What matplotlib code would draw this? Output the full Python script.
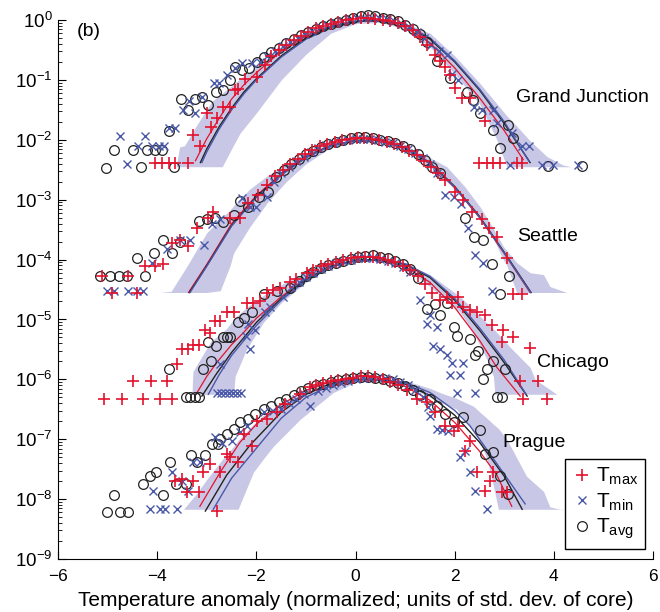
import matplotlib.pyplot as plt
import numpy as np

plt.rcParams['font.family'] = ['Liberation Sans', 'DejaVu Sans']
plt.rcParams['mathtext.fontset'] = 'custom'
plt.rcParams['mathtext.rm'] = 'Liberation Sans'
plt.rcParams['mathtext.it'] = 'Liberation Sans:italic'
plt.rcParams['mathtext.bf'] = 'Liberation Sans:bold'

# all y values are log10 of the normalized frequency (peak ~ 1) before the
# per-station vertical offset; x is the anomaly in std. dev. units

city_names = ['Grand Junction', 'Seattle', 'Chicago', 'Prague']
city_offsets = [0, -2, -4, -6]          # decades shifted down
label_x = [3.24, 3.26, 3.66, 2.97]
label_y = [-1.30, -1.62, -1.72, -1.05]  # relative to each offset

# ---------------- Grand Junction ----------------
gj_tmax_x = [-4.04, -3.9, -3.77, -3.64, -3.37, -3.28, -3.14, -3.0, -2.92, -2.8, -2.67, -2.54, -2.43, -2.37,
             -2.23, -1.99, -1.82, -1.7, -1.55, -1.4, -1.25, -1.1, -0.95, -0.8, -0.65, -0.5, -0.35, -0.2,
             -0.05, 0.1, 0.25, 0.4, 0.55, 0.7, 0.85, 1.0, 1.15, 1.3, 1.45, 1.6, 1.7, 1.8, 1.9, 2.0,
             2.15, 2.31, 2.61, 2.48, 2.65, 2.78, 2.92, 3.25, 3.36]
gj_tmax_y = [-2.38, -2.38, -2.38, -2.38, -2.38, -1.92, -2.1, -1.55, -1.78, -1.64, -1.45, -1.45, -1.17, -1.15,
             -0.99, -0.95, -0.75, -0.6, -0.5, -0.42, -0.33, -0.27, -0.2, -0.14, -0.1, -0.06, -0.03, 0.0,
             0.02, 0.04, 0.03, 0.02, 0.0, -0.02, -0.05, -0.1, -0.17, -0.28, -0.42, -0.58, -0.68, -0.78, -0.92, -1.14,
             -1.3, -1.3, -1.69, -2.38, -2.38, -2.38, -2.38, -2.38, -2.38]
gj_tmin_x = [-4.75, -4.61, -4.38, -4.24, -4.1, -3.97, -3.87, -3.77, -3.64, -3.48, -3.35, -3.24, -3.1, -2.86,
             -2.76, -2.6, -2.43, -2.29, -2.09, -1.93, -1.78, -1.62, -1.47, -1.32, -1.17, -1.02, -0.87, -0.72,
             -0.57, -0.42, -0.27, -0.12, 0.03, 0.18, 0.33, 0.48, 0.63, 0.78, 0.93, 1.08, 1.23, 1.38, 1.53,
             1.68, 1.84, 1.95, 2.07, 2.38, 2.55, 2.78, 2.85, 3.15, 3.36, 3.5, 3.12, 3.76, 3.99, 4.49]
gj_tmin_y = [-1.93, -2.4, -2.1, -1.93, -2.1, -2.1, -2.1, -1.8, -1.8, -1.5, -1.36, -1.55, -1.28, -1.05,
             -1.05, -0.92, -0.8, -0.72, -0.72, -0.7, -0.6, -0.52, -0.43, -0.36, -0.3, -0.23, -0.18, -0.12,
             -0.08, -0.05, -0.02, 0.01, 0.03, 0.04, 0.04, 0.03, 0.01, -0.02, -0.06, -0.12, -0.2, -0.3, -0.42,
             -0.52, -0.58, -0.9, -1.0, -1.45, -1.5, -1.5, -1.72, -1.89, -2.1, -2.1, -2.42, -2.42, -2.42, -2.42]
gj_tavg_x = [-5.03, -4.87, -4.48, -4.32, -4.2, -4.04, -3.9, -3.77, -3.66, -3.53, -3.38, -3.24, -3.1, -2.97,
             -2.81, -2.67, -2.54, -2.43, -2.29, -2.14, -1.99, -1.85, -1.7, -1.55, -1.4, -1.25, -1.1, -0.95,
             -0.8, -0.65, -0.5, -0.35, -0.2, -0.05, 0.1, 0.25, 0.4, 0.55, 0.7, 0.85, 1.0, 1.15, 1.3, 1.45,
             1.64, 1.9, 2.24, 2.37, 2.51, 2.78, 2.92, 3.08, 3.17, 3.88, 4.57]
gj_tavg_y = [-2.47, -2.17, -2.17, -2.46, -2.17, -2.17, -2.17, -1.86, -2.46, -1.32, -1.5, -1.32, -1.28, -1.42,
             -1.2, -1.17, -1.0, -0.78, -0.83, -0.8, -0.7, -0.62, -0.53, -0.46, -0.38, -0.31, -0.25, -0.2,
             -0.15, -0.1, -0.07, -0.03, 0.0, 0.03, 0.06, 0.08, 0.06, 0.04, 0.02, -0.02, -0.08, -0.15, -0.24, -0.36,
             -0.68, -0.97, -1.2, -1.33, -1.55, -1.83, -2.14, -1.75, -1.97, -2.44, -2.44]
gj_red_x = [-3.23, -3.0, -2.75, -2.5, -2.25, -2.0, -1.5, -1.0, -0.5, 0.0, 0.5, 1.0, 1.5, 2.0, 2.5, 3.0, 3.38]
gj_red_y = [-2.35, -1.98, -1.64, -1.32, -1.08, -0.88, -0.52, -0.27, -0.1, -0.02, -0.02, -0.12, -0.38, -0.8, -1.3, -1.85, -2.33]
gj_blk_x = [-3.13, -3.0, -2.75, -2.5, -2.25, -2.0, -1.5, -1.0, -0.5, 0.0, 0.5, 1.0, 1.5, 2.0, 2.5, 3.0, 3.52]
gj_blk_y = [-2.38, -2.15, -1.78, -1.47, -1.2, -0.98, -0.6, -0.3, -0.12, -0.03, 0.0, -0.08, -0.32, -0.7, -1.17, -1.73, -2.38]
gj_blu_x = [-3.1, -3.0, -2.75, -2.5, -2.25, -2.0, -1.5, -1.0, -0.5, 0.0, 0.5, 1.0, 1.5, 2.0, 2.5, 3.0, 3.5]
gj_blu_y = [-2.38, -2.2, -1.82, -1.5, -1.23, -1.0, -0.62, -0.32, -0.13, -0.03, 0.0, -0.07, -0.3, -0.68, -1.15, -1.7, -2.36]
gj_band_x = [-3.62, -3.55, -3.45, -3.2, -2.9, -2.69, -2.5, -2.33, -2.0, -1.5, -1.0, -0.5, 0.0, 0.5, 1.0,
             1.5, 2.0, 2.5, 2.85, 3.05, 3.26, 3.5, 3.86, 4.18, 4.35]
gj_band_lo = [-2.45, -2.45, -2.45, -2.45, -2.45, -2.45, -2.15, -1.89, -1.55, -1.0, -0.57, -0.22, -0.06, -0.04, -0.15,
              -0.45, -0.9, -1.4, -2.0, -2.45, -2.45, -2.45, -2.45, -2.45, -2.45]
gj_band_hi = [-2.45, -2.12, -2.1, -1.75, -1.36, -1.22, -1.1, -0.98, -0.78, -0.45, -0.22, -0.06, 0.0, 0.0, -0.05,
              -0.22, -0.6, -1.05, -1.4, -1.6, -1.78, -2.0, -2.28, -2.42, -2.45]

# ---------------- Seattle ----------------
sea_tmax_x = [-5.12, -4.58, -4.92, -4.41, -4.24, -4.04, -3.88, -3.7, -3.54, -3.37, -3.2, -2.98, -2.87, -2.53,
              -2.33, -2.16, -1.96, -1.78, -1.62, -1.47, -1.32, -1.17, -1.02, -0.87, -0.72, -0.57, -0.42, -0.27,
              -0.12, 0.03, 0.18, 0.33, 0.48, 0.63, 0.78, 0.93, 1.08, 1.23, 1.38, 1.53, 1.66, 1.8, 2.0, 2.17,
              2.35, 2.55, 2.7, 2.85, 3.05, 3.18, 3.36]
sea_tmax_y = [-2.27, -2.27, -2.55, -2.55, -2.11, -2.11, -2.08, -1.72, -1.67, -1.78, -1.47, -1.3, -1.2, -1.3,
              -1.3, -1.05, -0.92, -0.75, -0.6, -0.5, -0.4, -0.32, -0.24, -0.17, -0.11, -0.07, -0.03, 0.0,
              0.02, 0.03, 0.03, 0.02, 0.0, -0.03, -0.07, -0.12, -0.18, -0.26, -0.35, -0.45, -0.55, -0.67, -0.87, -1.0,
              -1.2, -1.33, -1.47, -1.63, -1.97, -2.57, -2.57]
sea_tmin_x = [-5.02, -4.88, -4.58, -4.41, -4.28, -4.1, -3.8, -3.54, -3.33, -3.05, -2.9, -2.73, -2.29, -2.13,
              -2.0, -1.78, -1.65, -1.5, -1.35, -1.2, -1.05, -0.9, -0.75, -0.6, -0.45, -0.3, -0.15, 0.0,
              0.15, 0.3, 0.45, 0.6, 0.75, 0.9, 1.05, 1.2, 1.35, 1.5, 1.65, 1.81, 1.98, 2.13, 2.27, 2.41, 2.58, 2.75]
sea_tmin_y = [-2.53, -2.53, -2.53, -2.53, -2.53, -2.05, -1.83, -1.67, -1.67, -1.75, -1.4, -1.33, -0.97, -1.12,
              -1.12, -0.95, -0.7, -0.56, -0.45, -0.36, -0.28, -0.2, -0.14, -0.09, -0.05, -0.02, 0.0, 0.02,
              0.02, 0.01, -0.01, -0.03, -0.06, -0.1, -0.15, -0.22, -0.3, -0.4, -0.55, -0.92, -0.95, -1.08, -1.47,
              -1.92, -2.05, -2.53]
sea_tavg_x = [-5.15, -4.95, -4.78, -4.61, -4.24, -4.41, -4.06, -3.89, -3.71, -3.54, -3.16, -2.99, -2.83, -2.67,
              -2.46, -2.33, -2.16, -1.95, -1.76, -1.6, -1.45, -1.3, -1.15, -1.0, -0.85, -0.7, -0.55, -0.4,
              -0.25, -0.1, 0.05, 0.2, 0.35, 0.5, 0.65, 0.8, 0.95, 1.1, 1.25, 1.4, 1.55, 1.7, 2.21, 2.39,
              2.57, 2.75, 2.92, 3.09]
sea_tavg_y = [-2.27, -2.27, -2.27, -2.27, -2.27, -1.97, -1.89, -1.67, -1.89, -1.71, -1.35, -1.32, -1.3, -1.37,
              -1.25, -1.03, -1.13, -0.95, -0.87, -0.62, -0.5, -0.4, -0.32, -0.24, -0.18, -0.12, -0.07, -0.03,
              0.0, 0.03, 0.04, 0.04, 0.03, 0.0, -0.02, -0.05, -0.1, -0.16, -0.24, -0.34, -0.45, -0.55, -1.3, -1.62,
              -1.67, -2.08, -2.57, -2.28]
sea_red_x = [-3.37, -3.0, -2.5, -2.0, -1.5, -1.0, -0.5, 0.0, 0.5, 1.0, 1.5, 2.0, 2.5, 3.0, 3.52]
sea_red_y = [-2.55, -2.08, -1.4, -0.93, -0.57, -0.28, -0.09, -0.01, -0.01, -0.14, -0.4, -0.8, -1.3, -1.9, -2.55]
sea_blk_x = [-3.35, -3.0, -2.5, -2.0, -1.5, -1.0, -0.5, 0.0, 0.5, 1.0, 1.5, 2.0, 2.5, 3.0, 3.54]
sea_blk_y = [-2.55, -2.1, -1.43, -0.95, -0.58, -0.29, -0.1, -0.01, -0.01, -0.13, -0.38, -0.78, -1.28, -1.88, -2.55]
sea_blu_x = [-3.34, -3.0, -2.5, -2.0, -1.5, -1.0, -0.5, 0.0, 0.5, 1.0, 1.5, 2.0, 2.5, 3.0, 3.53]
sea_blu_y = [-2.55, -2.11, -1.44, -0.96, -0.59, -0.3, -0.1, -0.01, -0.01, -0.13, -0.39, -0.79, -1.29, -1.89, -2.55]
sea_band_x = [-3.94, -3.72, -3.4, -3.0, -2.73, -2.53, -2.46, -2.13, -1.78, -1.4, -1.0, -0.5, 0.0, 0.5, 1.0,
              1.5, 1.84, 2.2, 2.51, 2.72, 2.98, 3.05, 3.25, 3.52, 3.79, 3.92, 4.26]
sea_band_lo = [-2.55, -2.55, -2.55, -2.55, -2.52, -2.1, -1.89, -1.45, -1.05, -0.7, -0.4, -0.13, -0.03, -0.03, -0.18,
               -0.45, -0.7, -1.0, -1.3, -1.55, -2.0, -2.1, -2.55, -2.55, -2.55, -2.55, -2.55]
sea_band_hi = [-2.55, -2.53, -2.11, -1.55, -1.33, -1.17, -1.1, -0.82, -0.6, -0.4, -0.22, -0.06, 0.01, 0.0, -0.1,
               -0.3, -0.45, -0.78, -1.12, -1.4, -1.78, -1.85, -2.05, -2.22, -2.25, -2.45, -2.55]

# ---------------- Chicago ----------------
chi_tmax_x = [-5.08, -4.71, -4.28, -3.94, -3.7, -4.48, -4.12, -3.81, -3.6, -3.5, -3.37, -3.27, -3.15, -3.03,
              -2.93, -2.83, -2.73, -2.6, -2.46, -2.19, -2.06, -1.92, -1.79, -1.66, -1.52, -1.32, -1.2, -0.98,
              -0.85, -0.7, -0.55, -0.4, -0.25, -0.1, 0.05, 0.2, 0.35, 0.5, 0.65, 0.8, 0.95, 1.1, 1.25, 1.4,
              1.55, 1.7, 1.84, 1.95, 2.07, 2.17, 2.3, 2.45, 2.61, 2.75, 2.98, 2.95, 3.18, 3.52, 3.32, 3.68, 3.38, 3.86]
chi_tmax_y = [-2.33, -2.33, -2.33, -2.33, -2.33, -2.03, -2.03, -2.03, -1.75, -1.5, -1.5, -1.42, -1.42, -1.17,
              -1.22, -1.02, -1.02, -0.88, -0.88, -0.72, -0.72, -0.7, -0.55, -0.5, -0.47, -0.37, -0.32, -0.22,
              -0.17, -0.11, -0.07, -0.04, -0.01, 0.02, 0.04, 0.05, 0.04, 0.02, 0.0, -0.04, -0.1, -0.17, -0.27, -0.4,
              -0.55, -0.67, -0.63, -0.72, -0.62, -0.8, -0.85, -0.88, -0.92, -1.1, -1.17, -1.37, -1.3, -1.47, -2.03,
              -2.03, -2.33, -2.33]
chi_tmin_x = [-2.8, -2.72, -2.64, -2.56, -2.48, -2.4, -2.32, -2.73, -2.21, -2.12, -2.16, -2.03, -1.82, -1.72,
              -1.46, -1.3, -1.15, -1.0, -0.85, -0.7, -0.55, -0.4, -0.25, -0.1, 0.05, 0.2, 0.35, 0.5, 0.65,
              0.8, 0.95, 1.1, 1.3, 1.5, 1.44, 1.64, 1.57, 1.7, 1.84, 1.95, 2.17, 1.9, 2.11, 2.04, 2.41]
chi_tmin_y = [-2.22, -2.22, -2.22, -2.22, -2.22, -2.22, -2.22, -1.75, -1.28, -1.5, -1.08, -1.17, -0.87, -0.8,
              -0.62, -0.45, -0.37, -0.29, -0.22, -0.16, -0.1, -0.06, -0.03, 0.0, 0.02, 0.03, 0.03, 0.01, -0.02,
              -0.06, -0.12, -0.2, -0.67, -0.92, -1.08, -1.13, -1.45, -1.5, -1.6, -1.72, -1.72, -1.92, -1.92, -2.22,
              -2.22]
chi_tavg_x = [-3.43, -3.33, -3.24, -3.15, -3.77, -3.08, -2.92, -2.97, -2.81, -2.67, -2.6, -2.53, -2.38, -2.26,
              -2.09, -1.85, -1.59, -1.32, -1.15, -1.0, -0.85, -0.7, -0.55, -0.4, -0.25, -0.1, 0.05, 0.2, 0.35,
              0.5, 0.65, 0.8, 0.95, 1.1, 1.25, 1.44, 1.6, 1.7, 1.84, 1.98, 2.04, 2.31, 2.47, 2.41, 2.65, 2.78,
              2.57, 3.02, 2.85, 2.96]
chi_tavg_y = [-2.3, -2.3, -2.3, -2.3, -1.82, -1.82, -1.7, -1.38, -1.45, -1.3, -1.3, -1.3, -1.05, -0.97,
              -0.87, -0.58, -0.53, -0.47, -0.35, -0.27, -0.2, -0.14, -0.09, -0.05, -0.02, 0.01, 0.04, 0.06, 0.07,
              0.05, 0.02, -0.02, -0.08, -0.16, -0.3, -0.83, -0.75, -0.92, -0.72, -1.13, -1.28, -1.33, -1.53, -1.6,
              -1.83, -1.7, -2.0, -1.83, -2.3, -2.3]
chi_red_x = [-3.24, -3.0, -2.8, -2.5, -2.26, -2.0, -1.5, -1.0, -0.5, 0.0, 0.5, 1.0, 1.5, 2.0, 2.5, 2.85, 3.32]
chi_red_y = [-2.28, -1.95, -1.72, -1.42, -1.22, -0.98, -0.62, -0.32, -0.11, -0.01, 0.0, -0.12, -0.38, -0.8, -1.35, -1.8, -2.28]
chi_blk_x = [-3.1, -2.8, -2.5, -2.0, -1.5, -1.0, -0.5, 0.0, 0.5, 1.0, 1.5, 2.0, 2.5, 2.98, 3.46]
chi_blk_y = [-2.28, -1.9, -1.55, -1.05, -0.65, -0.33, -0.12, -0.02, 0.0, -0.08, -0.3, -0.68, -1.18, -1.7, -2.28]
chi_blu_x = [-2.97, -2.75, -2.5, -2.0, -1.5, -1.0, -0.5, 0.0, 0.5, 1.0, 1.5, 2.0, 2.5, 3.0, 3.44]
chi_blu_y = [-2.25, -1.92, -1.6, -1.1, -0.68, -0.35, -0.13, -0.02, 0.0, -0.07, -0.28, -0.65, -1.14, -1.68, -2.25]
chi_band_x = [-3.74, -3.3, -3.28, -2.93, -2.6, -2.46, -2.43, -2.2, -1.86, -1.5, -1.0, -0.5, 0.0, 0.5, 1.0,
              1.5, 2.11, 2.38, 2.65, 2.78, 2.81, 2.85, 3.16, 3.52, 3.62, 3.92, 4.06]
chi_band_lo = [-2.25, -2.25, -2.25, -2.25, -2.25, -2.25, -1.95, -1.5, -1.05, -0.72, -0.38, -0.12, -0.02, -0.02, -0.15,
               -0.45, -0.88, -1.22, -1.67, -1.95, -2.25, -2.25, -2.25, -2.25, -2.25, -2.25, -2.25]
chi_band_hi = [-2.25, -2.25, -1.87, -1.38, -1.15, -1.0, -0.97, -0.8, -0.6, -0.42, -0.2, -0.06, 0.02, 0.02, -0.06,
               -0.25, -0.62, -0.84, -1.06, -1.16, -1.18, -1.22, -1.5, -1.8, -2.0, -2.17, -2.25]

# ---------------- Prague ----------------
pra_tmax_x = [-3.64, -3.5, -3.4, -3.27, -3.15, -3.07, -2.93, -2.8, -2.73, -2.6, -2.53, -2.37, -2.26, -2.09,
              -1.99, -1.78, -1.59, -1.42, -1.12, -0.92, -0.8, -0.65, -0.5, -0.35, -0.2, -0.05, 0.1, 0.25, 0.4,
              0.55, 0.7, 0.85, 1.03, 1.24, 1.44, 1.6, 1.8, 1.98, 2.07, 2.31, 2.21, 2.45, 2.78, 2.71, 2.61, 2.95, 3.05]
pra_tmax_y = [-1.7, -1.67, -1.88, -1.7, -1.88, -1.55, -1.42, -2.2, -1.55, -1.25, -1.3, -1.38, -0.92, -1.12,
              -0.7, -0.67, -0.55, -0.42, -0.25, -0.13, -0.1, -0.06, -0.03, -0.01, 0.01, 0.03, 0.05, 0.06, 0.04,
              0.0, -0.04, -0.1, -0.17, -0.33, -0.38, -0.55, -0.78, -0.87, -0.78, -1.03, -1.2, -1.55, -1.55, -1.7,
              -1.87, -1.88, -1.88]
pra_tmin_x = [-4.08, -4.14, -3.94, -3.84, -3.6, -3.7, -3.5, -3.37, -3.27, -3.14, -2.83, -2.7, -2.5, -2.33,
              -2.19, -1.85, -1.66, -1.5, -1.35, -1.2, -1.05, -0.92, -0.75, -0.6, -0.45, -0.3, -0.15, 0.0, 0.15,
              0.3, 0.45, 0.6, 0.75, 0.9, 1.05, 1.2, 1.35, 1.47, 1.5, 1.64, 1.75, 1.87, 2.21, 2.11, 2.31, 2.41, 2.65]
pra_tmin_y = [-1.87, -2.17, -2.17, -2.17, -2.17, -1.55, -1.7, -1.87, -1.38, -1.38, -0.97, -1.07, -1.03, -0.88,
              -0.78, -0.55, -0.53, -0.5, -0.4, -0.33, -0.25, -0.45, -0.2, -0.15, -0.1, -0.06, -0.03, 0.0, 0.02,
              0.03, 0.03, 0.02, 0.0, -0.04, -0.1, -0.18, -0.3, -0.47, -0.62, -0.83, -0.85, -0.87, -1.2, -1.3, -1.55,
              -1.87, -2.17]
pra_tavg_x = [-5.02, -4.75, -4.58, -4.88, -4.28, -4.14, -4.02, -3.88, -3.74, -3.62, -3.43, -3.32, -3.2, -3.03,
              -2.9, -2.78, -2.73, -2.6, -2.46, -2.33, -2.16, -2.03, -1.85, -1.7, -1.55, -1.4, -1.25, -1.1, -0.95,
              -0.8, -0.65, -0.5, -0.35, -0.2, -0.05, 0.1, 0.25, 0.4, 0.55, 0.7, 0.85, 1.0, 1.15, 1.3, 1.5, 1.64,
              1.8, 1.98, 2.17, 2.51, 2.61, 2.78, 2.92, 3.08]
pra_tavg_y = [-2.22, -2.22, -2.22, -1.93, -1.75, -1.62, -1.55, -1.93, -1.38, -1.75, -1.75, -1.27, -1.38, -1.27,
              -1.08, -1.08, -1.0, -0.92, -0.83, -0.72, -0.67, -0.58, -0.5, -0.45, -0.38, -0.32, -0.26, -0.2, -0.15,
              -0.1, -0.07, -0.04, -0.01, 0.01, 0.03, 0.04, 0.04, 0.03, 0.01, -0.02, -0.06, -0.11, -0.17, -0.26,
              -0.33, -0.45, -0.58, -0.72, -0.63, -0.85, -1.25, -1.22, -1.62, -1.92]
pra_red_x = [-3.14, -2.73, -2.33, -2.0, -1.5, -1.0, -0.5, 0.0, 0.5, 1.0, 1.5, 2.0, 2.5, 2.85, 3.15]
pra_red_y = [-2.12, -1.55, -1.05, -0.75, -0.42, -0.18, -0.04, 0.0, -0.02, -0.12, -0.35, -0.72, -1.2, -1.6, -2.12]
pra_blk_x = [-3.03, -2.6, -2.13, -1.5, -1.0, -0.5, 0.0, 0.5, 1.0, 1.5, 2.0, 2.5, 3.0, 3.36]
pra_blk_y = [-2.2, -1.6, -1.1, -0.55, -0.25, -0.07, 0.0, 0.0, -0.08, -0.27, -0.6, -1.05, -1.62, -2.17]
pra_blu_x = [-2.87, -2.5, -2.0, -1.5, -1.0, -0.5, 0.0, 0.5, 1.0, 1.5, 2.0, 2.31, 2.8, 3.42]
pra_blu_y = [-2.17, -1.65, -1.15, -0.65, -0.3, -0.1, -0.01, 0.0, -0.05, -0.22, -0.52, -0.78, -1.35, -2.08]
pra_band_x = [-3.47, -3.2, -3.0, -2.7, -2.46, -2.37, -2.06, -1.86, -1.66, -1.12, -0.45, 0.0, 0.5, 1.0, 1.5,
              1.7, 2.04, 2.38, 2.51, 2.65, 2.78, 2.88, 3.05, 3.45, 3.79, 3.92, 4.18]
pra_band_lo = [-2.17, -2.17, -2.17, -2.17, -2.17, -2.17, -1.55, -1.33, -1.12, -0.67, -0.22, -0.05, -0.02, -0.1, -0.3,
               -0.38, -0.5, -0.88, -1.05, -1.33, -1.78, -2.17, -2.17, -2.17, -2.17, -2.17, -2.17]
pra_band_hi = [-2.17, -1.9, -1.67, -1.35, -1.12, -1.02, -0.75, -0.6, -0.48, -0.22, -0.03, 0.02, 0.02, -0.02, -0.15,
               -0.22, -0.32, -0.45, -0.55, -0.65, -0.75, -0.82, -1.0, -1.62, -1.87, -2.13, -2.18]

tmax_x = [gj_tmax_x, sea_tmax_x, chi_tmax_x, pra_tmax_x]
tmax_y = [gj_tmax_y, sea_tmax_y, chi_tmax_y, pra_tmax_y]
tmin_x = [gj_tmin_x, sea_tmin_x, chi_tmin_x, pra_tmin_x]
tmin_y = [gj_tmin_y, sea_tmin_y, chi_tmin_y, pra_tmin_y]
tavg_x = [gj_tavg_x, sea_tavg_x, chi_tavg_x, pra_tavg_x]
tavg_y = [gj_tavg_y, sea_tavg_y, chi_tavg_y, pra_tavg_y]
red_x = [gj_red_x, sea_red_x, chi_red_x, pra_red_x]
red_y = [gj_red_y, sea_red_y, chi_red_y, pra_red_y]
blk_x = [gj_blk_x, sea_blk_x, chi_blk_x, pra_blk_x]
blk_y = [gj_blk_y, sea_blk_y, chi_blk_y, pra_blk_y]
blu_x = [gj_blu_x, sea_blu_x, chi_blu_x, pra_blu_x]
blu_y = [gj_blu_y, sea_blu_y, chi_blu_y, pra_blu_y]
band_x = [gj_band_x, sea_band_x, chi_band_x, pra_band_x]
band_lo = [gj_band_lo, sea_band_lo, chi_band_lo, pra_band_lo]
band_hi = [gj_band_hi, sea_band_hi, chi_band_hi, pra_band_hi]

RED = '#e3122d'
BLUE = '#4a58a8'
BLACK = '#222222'
SHADE = '#c8c8e6'

fig = plt.figure(figsize=(6.6, 6.12), dpi=100)
ax = fig.add_axes([0.088, 0.0866, 0.9015, 0.8807])
ax.set_yscale('log')


def lin(vals, off):
    return 10.0 ** (np.asarray(vals) + off)


for i, off in enumerate(city_offsets):
    ax.fill_between(band_x[i], lin(band_lo[i], off), lin(band_hi[i], off),
                    color=SHADE, lw=0, zorder=1)
    ax.plot(red_x[i], lin(red_y[i], off), color=RED, lw=0.9, zorder=2, clip_on=False)
    ax.plot(blk_x[i], lin(blk_y[i], off), color=BLACK, lw=1.0, zorder=2, clip_on=False)
    ax.plot(blu_x[i], lin(blu_y[i], off), color=BLUE, lw=1.0, zorder=2, clip_on=False)
    ax.plot(tavg_x[i], lin(tavg_y[i], off), 'o', ms=7, mfc='none', mec=BLACK, mew=0.9,
            zorder=3, clip_on=False)
    ax.plot(tmin_x[i], lin(tmin_y[i], off), 'x', ms=5.5, color=BLUE, mew=1.0,
            zorder=4, clip_on=False)
    ax.plot(tmax_x[i], lin(tmax_y[i], off), '+', ms=8.5, color=RED, mew=1.2,
            zorder=5, clip_on=False)
    ax.text(label_x[i], lin(label_y[i], off), city_names[i], fontsize=14,
            ha='left', va='center', zorder=6)

ax.text(-5.62, 10 ** -0.2, '(b)', fontsize=14, ha='left', va='center')

h1, = ax.plot([], [], '+', ms=8.5, color=RED, mew=1.2)
h2, = ax.plot([], [], 'x', ms=5.5, color=BLUE, mew=1.0)
h3, = ax.plot([], [], 'o', ms=7, mfc='none', mec=BLACK, mew=0.9)
leg = ax.legend([h1, h2, h3], [r'T$_{\rm max}$', r'T$_{\rm min}$', r'T$_{\rm avg}$'],
                loc='lower right', bbox_to_anchor=(0.987, 0.019), borderaxespad=0,
                fontsize=15, handlelength=0.9, handletextpad=0.2, borderpad=0.35,
                labelspacing=0.2, fancybox=False, framealpha=1, edgecolor='black')
leg.get_frame().set_linewidth(1.0)
leg.set_zorder(10)

ax.set_xlim(-6, 6)
ax.set_ylim(1e-9, 1e0)
ax.set_xticks([-6, -4, -2, 0, 2, 4, 6])
ax.set_yticks([10.0 ** k for k in range(-9, 1)])
ax.spines['top'].set_visible(False)
ax.spines['right'].set_visible(False)
ax.tick_params(axis='both', which='both', direction='in')
ax.tick_params(axis='y', which='major', length=6, labelsize=13.5, pad=4)
ax.tick_params(axis='y', which='minor', length=3)
ax.tick_params(axis='x', which='major', length=6, labelsize=12.5, pad=7)
ax.set_xlabel('Temperature anomaly (normalized; units of std. dev. of core)', fontsize=15, labelpad=5)

fig.savefig('out.png', dpi=100)
